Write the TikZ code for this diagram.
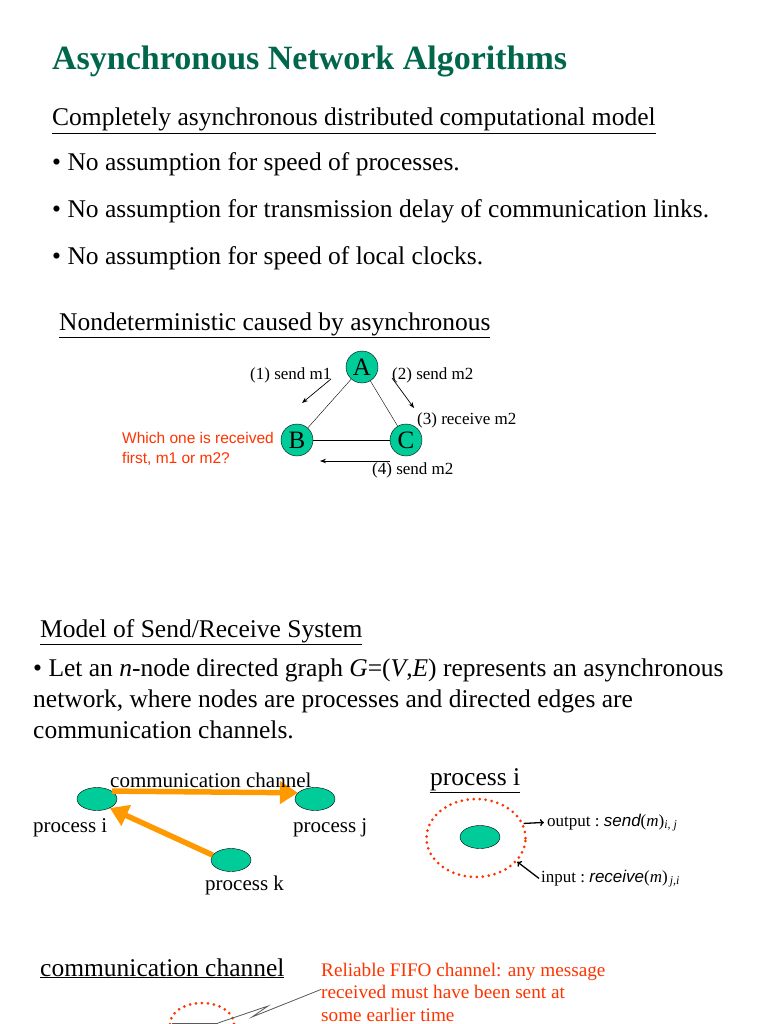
\documentclass[tikz,border=0pt]{standalone}
\usepackage{fontspec}
\setmainfont{Liberation Serif}
\setsansfont{Liberation Sans}
\usetikzlibrary{arrows.meta,shapes.geometric}

\definecolor{titlegreen}{RGB}{0,102,76}
\definecolor{procgreen}{RGB}{0,204,153}
\definecolor{chorange}{RGB}{255,153,0}
\definecolor{alertred}{RGB}{255,51,0}

\tikzset{
    body/.style={anchor=base west, inner sep=0pt, font=\fontsize{25.5}{30}\selectfont},
    small/.style={anchor=base west, inner sep=0pt, font=\fontsize{17}{20}\selectfont},
    mid/.style={anchor=base west, inner sep=0pt, font=\fontsize{21}{25}\selectfont},
    proc/.style={circle, draw, fill=procgreen, minimum size=32pt, inner sep=0pt, font=\fontsize{25}{30}\selectfont},
    pnode/.style={ellipse, draw, fill=procgreen, minimum width=40pt, minimum height=23pt, inner sep=0pt},
    msg/.style={-{Stealth[length=6pt,width=4.5pt]}, line width=0.7pt},
    chan/.style={draw=chorange, line width=5.5pt, -{Triangle[length=18pt 0 0,width=22pt 0 0]}},
    io/.style={-{To[length=4pt,width=7pt]}, line width=1.3pt},
    reddots/.style={draw=alertred, line width=3pt, dash pattern=on 0pt off 6pt, line cap=round},
}

\begin{document}
\begin{tikzpicture}[x=1pt, y=-1pt]
    \useasboundingbox (0, 0) rectangle (768, 1024);

    % Title and bullets
    \node[anchor=base west, inner sep=0pt, text=titlegreen, font=\bfseries\fontsize{34}{40}\selectfont] (title) at (52, 70) {Asynchronous Network Algorithms};
    \node[body] (model) at (52, 126) {\underline{Completely asynchronous distributed computational model}};
    \node[body] (b1) at (52, 171) {\textbullet\ No assumption for speed of processes.};
    \node[body] (b2) at (52, 218) {\textbullet\ No assumption for transmission delay of communication links.};
    \node[body] (b3) at (52, 264) {\textbullet\ No assumption for speed of local clocks.};
    \node[body] (nondet) at (59, 330) {\underline{Nondeterministic caused by asynchronous}};

    % Triangle A, B, C
    \node[proc] (A) at (362, 367) {A};
    \node[proc] (B) at (297, 440) {B};
    \node[proc] (C) at (406, 440) {C};
    \draw (A) -- (B);
    \draw (A) -- (C);
    \draw (B) -- (C);

    % Messages
    \coordinate (m1s) at (331, 379);
    \coordinate (m1e) at (302, 403);
    \coordinate (m2s) at (392, 378);
    \coordinate (m2e) at (414, 408);
    \coordinate (m4s) at (390, 461);
    \coordinate (m4e) at (320, 461);
    \draw[msg] (m1s) -- (m1e);
    \draw[msg] (m2s) -- (m2e);
    \draw[msg] (m4s) -- (m4e);
    \node[small] (l1) at (250, 379) {(1) send m1};
    \node[small] (l2) at (392, 379) {(2) send m2};
    \node[small] (l3) at (417, 424) {(3) receive m2};
    \node[small] (l4) at (372, 474) {(4) send m2};
    \node[anchor=base west, inner sep=0pt, text=alertred, font=\sffamily\fontsize{15.5}{19}\selectfont] (q1) at (122, 443) {Which one is received};
    \node[anchor=base west, inner sep=0pt, text=alertred, font=\sffamily\fontsize{15.5}{19}\selectfont] (q2) at (122, 463) {first, m1 or m2?};

    % Send/Receive system
    \node[body] (srs) at (40, 637) {\underline{Model of Send/Receive System}};
    \node[body] (g1) at (33, 676) {\textbullet\ Let an \textit{n}-node directed graph \textit{G}=(\textit{V},\textit{E}) represents an asynchronous};
    \node[body] (g2) at (33, 707) {network, where nodes are processes and directed edges are};
    \node[body] (g3) at (33, 738) {communication channels.};

    % Processes and channels
    \node[pnode] (pi) at (97, 799) {};
    \node[pnode] (pj) at (315, 799) {};
    \node[pnode] (pk) at (231, 860) {};
    \draw[chan] (pi.28) -- (pj.160);
    \draw[chan] (pk.165) -- (pi.-35);
    \node[mid] (cc) at (110, 787) {communication channel};
    \node[mid] (li) at (33, 832) {process i};
    \node[mid] (lj) at (293, 832) {process j};
    \node[mid] (lk) at (205, 890) {process k};

    % Process i with input and output
    \node[body] (pihead) at (430, 785) {\underline{process i}};
    \node[ellipse, reddots, minimum width=99pt, minimum height=78pt, inner sep=0pt] (pbound) at (476, 838) {};
    \node[pnode] (pin) at (480, 837) {};
    \node[small] (out) at (547, 826) {output :\ {\sffamily\itshape send}(\textit{m})\textsubscript{\textit{i, j}}};
    \node[small] (inp) at (541, 882) {input :\ {\sffamily\itshape receive}(\textit{m})\textsubscript{\,\textit{j,i}}};
    \draw[io] (pbound.17) -- ([xshift=-3pt]out.west);
    \draw[io] ([xshift=-2pt]inp.west) -- (pbound.-30);

    % Communication channel
    \node[body] (chead) at (40, 976) {\underline{communication channel}};
    \draw[reddots] (202, 1024) ellipse [x radius=32, y radius=21];
    \coordinate (cl) at (172, 1023);
    \coordinate (cr) at (218, 1023);
    \draw[gray!70!black] (cl) -- (cr);
    \node[anchor=base west, inner sep=0pt, text=alertred, font=\fontsize{19.2}{22}\selectfont] (f1) at (321, 976) {Reliable FIFO channel: any message};
    \node[anchor=base west, inner sep=0pt, text=alertred, font=\fontsize{19.2}{22}\selectfont] (f2) at (321, 998) {received must have been sent at};
    \node[anchor=base west, inner sep=0pt, text=alertred, font=\fontsize{19.2}{22}\selectfont] (f3) at (321, 1021) {some earlier time};
    \draw[gray!70!black, line width=0.8pt] (cr) -- (268, 1006) -- (252, 1017) -- ([yshift=2pt]f2.west);
\end{tikzpicture}
\end{document}
